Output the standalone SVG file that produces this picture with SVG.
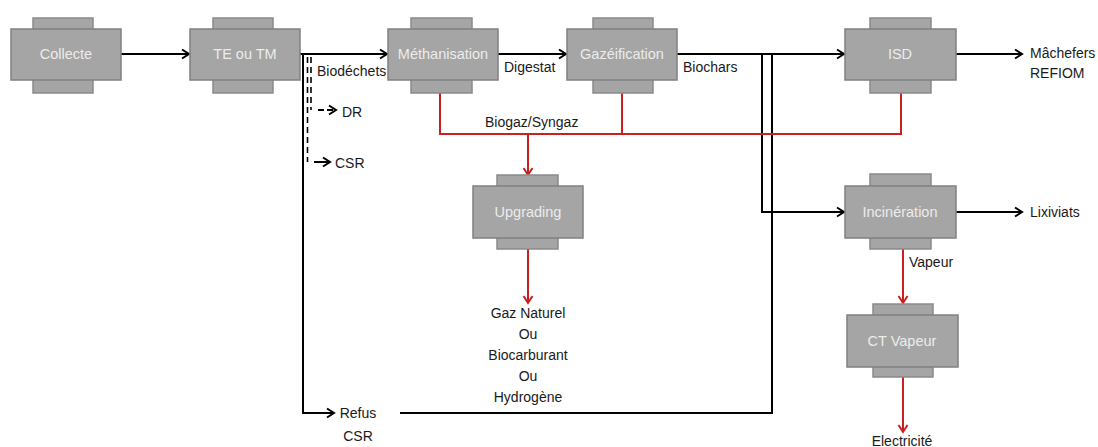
<svg xmlns="http://www.w3.org/2000/svg" width="1098" height="447" viewBox="0 0 1098 447">
<style>
.tab{fill:#a5a5a5;stroke:#8a8a8a;stroke-width:1.5}
.box{fill:#a5a5a5;stroke:#808080;stroke-width:1.5}
.nt{font-family:"Liberation Sans",Arial,sans-serif;font-size:14.5px;fill:#ececec;text-anchor:middle}
.lb{font-family:"Liberation Sans",Arial,sans-serif;font-size:14px;fill:#1a1a1a}
.c{text-anchor:middle}
.k{fill:none;stroke:#000;stroke-width:2}
.r{fill:none;stroke:#cc1f1f;stroke-width:2}
.d{fill:none;stroke:#000;stroke-width:1.6;stroke-dasharray:6,4}
</style>
<defs>
<marker id="ak" markerUnits="userSpaceOnUse" markerWidth="12" markerHeight="12" refX="10" refY="6" orient="auto" overflow="visible">
<path d="M3,1.5 L10,6 L3,10.5" fill="none" stroke="#000" stroke-width="2"/>
</marker>
<marker id="ar" markerUnits="userSpaceOnUse" markerWidth="12" markerHeight="12" refX="10" refY="6" orient="auto" overflow="visible">
<path d="M3,1.5 L10,6 L3,10.5" fill="none" stroke="#cc1f1f" stroke-width="2"/>
</marker>
</defs>
<g id="connectors">
<path class="k" d="M121,54 H189" marker-end="url(#ak)"/>
<path class="k" d="M300,54 H387" marker-end="url(#ak)"/>
<path class="k" d="M498,54 H566" marker-end="url(#ak)"/>
<path class="k" d="M677,54 H844" marker-end="url(#ak)"/>
<path class="k" d="M956,54 H1022" marker-end="url(#ak)"/>
<path class="k" d="M762,54 V212 H844" marker-end="url(#ak)"/>
<path class="k" d="M400,413 H772 V54"/>
<path class="k" d="M303,54 V413 H334" marker-end="url(#ak)"/>
<path class="d" d="M311,57 V110"/>
<path class="k" d="M318,110 H336" stroke-width="1.6" stroke-dasharray="6,3" marker-end="url(#ak)"/>
<path class="d" d="M307.5,57 V162"/>
<path class="k" d="M314,162 H330" stroke-width="1.6" marker-end="url(#ak)"/>
<path class="k" d="M956,212 H1022" marker-end="url(#ak)"/>
<path class="r" d="M440,93 V134 H901 V93"/>
<path class="r" d="M622,93 V134"/>
<path class="r" d="M528,134 V175" marker-end="url(#ar)"/>
<path class="r" d="M528,249 V303" marker-end="url(#ar)"/>
<path class="r" d="M903,249 V303" marker-end="url(#ar)"/>
<path class="r" d="M903,377 V432" marker-end="url(#ar)"/>
</g>
<g id="collecte">
<rect class="tab" x="33" y="18" width="60" height="75"/>
<rect class="box" x="11" y="29" width="110" height="51"/>
<text class="nt" x="66" y="59">Collecte</text>
</g>
<g id="te-tm">
<rect class="tab" x="213" y="18" width="60" height="75"/>
<rect class="box" x="190" y="29" width="110" height="51"/>
<text class="nt" x="245" y="59">TE ou TM</text>
</g>
<g id="methanisation">
<rect class="tab" x="411" y="18" width="61" height="75"/>
<rect class="box" x="388" y="29" width="110" height="51"/>
<text class="nt" x="443" y="59">Méthanisation</text>
</g>
<g id="gazeification">
<rect class="tab" x="593" y="18" width="60" height="75"/>
<rect class="box" x="567" y="29" width="110" height="51"/>
<text class="nt" x="622" y="59">Gazéification</text>
</g>
<g id="isd">
<rect class="tab" x="870" y="18" width="61" height="75"/>
<rect class="box" x="845" y="29" width="111" height="51"/>
<text class="nt" x="900" y="59">ISD</text>
</g>
<g id="upgrading">
<rect class="tab" x="497" y="175" width="61" height="74"/>
<rect class="box" x="473" y="186" width="110" height="52"/>
<text class="nt" x="528" y="217">Upgrading</text>
</g>
<g id="incineration">
<rect class="tab" x="870" y="174" width="61" height="75"/>
<rect class="box" x="845" y="186" width="111" height="52"/>
<text class="nt" x="900" y="217">Incinération</text>
</g>
<g id="ct-vapeur">
<rect class="tab" x="873" y="304" width="60" height="73"/>
<rect class="box" x="847" y="315" width="111" height="52"/>
<text class="nt" x="902" y="346">CT Vapeur</text>
</g>
<g id="labels">
<text class="lb" x="317" y="76">Biodéchets</text>
<text class="lb" x="342" y="117">DR</text>
<text class="lb" x="335" y="168">CSR</text>
<text class="lb" x="504" y="72">Digestat</text>
<text class="lb" x="683" y="72">Biochars</text>
<text class="lb" x="485" y="127">Biogaz/Syngaz</text>
<text class="lb" x="1030" y="58">Mâchefers</text>
<text class="lb" x="1030" y="78">REFIOM</text>
<text class="lb" x="1030" y="217">Lixiviats</text>
<text class="lb" x="909" y="267">Vapeur</text>
<text class="lb c" x="528" y="318">Gaz Naturel</text>
<text class="lb c" x="528" y="339">Ou</text>
<text class="lb c" x="528" y="360">Biocarburant</text>
<text class="lb c" x="528" y="381">Ou</text>
<text class="lb c" x="528" y="402">Hydrogène</text>
<text class="lb c" x="358" y="418">Refus</text>
<text class="lb c" x="358" y="441">CSR</text>
<text class="lb c" x="902" y="446">Electricité</text>
</g>
</svg>
